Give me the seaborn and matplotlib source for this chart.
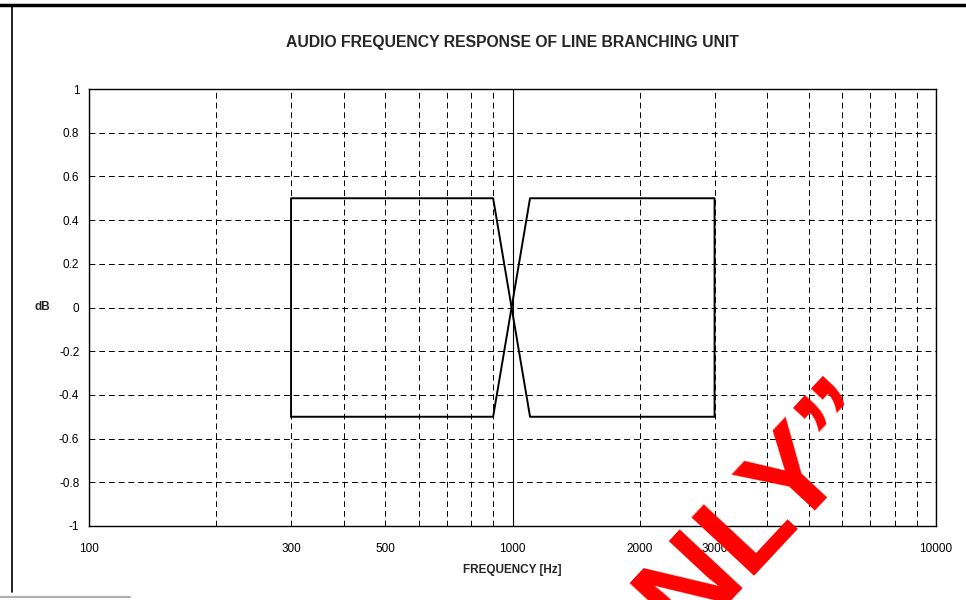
import numpy as np
import pandas as pd
import matplotlib
matplotlib.use("Agg")
import matplotlib.pyplot as plt
from matplotlib.ticker import LogLocator, FuncFormatter
from matplotlib.lines import Line2D
import seaborn as sns

# Tolerance mask of the line branching unit (two boundary traces)
upper_freq = [300, 300, 900, 1100, 3000]
upper_db = [-0.5, 0.5, 0.5, -0.5, -0.5]
lower_freq = [300, 900, 1100, 3000, 3000]
lower_db = [-0.5, -0.5, 0.5, 0.5, -0.5]

x_labelled = [100, 300, 500, 1000, 2000, 3000, 10000]
y_ticks = [-1, -0.8, -0.6, -0.4, -0.2, 0, 0.2, 0.4, 0.6, 0.8, 1]

title = "AUDIO FREQUENCY RESPONSE OF LINE BRANCHING UNIT"
x_title = "FREQUENCY [Hz]"
y_title = "dB"
stamp = "ONLY\u201d"

df = pd.concat([
    pd.DataFrame({"freq": upper_freq, "db": upper_db, "trace": "upper"}),
    pd.DataFrame({"freq": lower_freq, "db": lower_db, "trace": "lower"}),
], ignore_index=True)

sns.set_theme(style="white")
plt.rcParams["font.family"] = ["Liberation Sans", "DejaVu Sans"]

fig = plt.figure(figsize=(9.66, 6.0), dpi=100)
ax = fig.add_axes([89 / 966, 1 - 526 / 600, (936 - 89) / 966, (526 - 89) / 600])

sns.lineplot(data=df, x="freq", y="db", units="trace", estimator=None,
             sort=False, color="black", linewidth=1.4, ax=ax, legend=False)

ax.set_xscale("log")
ax.set_xlim(100, 10000)
ax.set_ylim(-1, 1)

ax.xaxis.set_major_locator(LogLocator(base=10))
ax.xaxis.set_minor_locator(LogLocator(base=10, subs=np.arange(2, 10)))
ax.xaxis.set_major_formatter(FuncFormatter(lambda v, p: f"{v:g}"))
ax.xaxis.set_minor_formatter(FuncFormatter(
    lambda v, p: f"{v:g}" if any(abs(v - t) < 1e-6 * t for t in x_labelled) else ""))
ax.set_yticks(y_ticks)
ax.yaxis.set_major_formatter(FuncFormatter(lambda v, p: f"{v:g}"))

ax.grid(True, which="major", axis="x", color="black", linewidth=0.8, linestyle="-")
ax.grid(True, which="minor", axis="x", color="black", linewidth=0.7, linestyle=(0, (6, 4)))
ax.grid(True, which="major", axis="y", color="black", linewidth=0.7, linestyle=(0, (6, 4)))

for s in ax.spines.values():
    s.set_color("black")
    s.set_linewidth(1.0)

ax.tick_params(axis="both", which="both", labelsize=8.5, colors="black",
               direction="out", length=3, width=0.8)
ax.tick_params(axis="x", which="both", pad=9)
ax.tick_params(axis="y", which="major", pad=4)

ax.set_xlabel(x_title, fontsize=8.5, fontweight="bold", labelpad=7)
ax.set_ylabel(y_title, fontsize=8.5, fontweight="bold", rotation=0,
              labelpad=12, va="center")
ax.set_title(title, fontsize=11.3, fontweight="bold", pad=30)

# page border of the scanned sheet
fig.add_artist(Line2D([0, 1], [1 - 5 / 600, 1 - 5 / 600], transform=fig.transFigure,
                      color="black", linewidth=2.5))
fig.add_artist(Line2D([12 / 966, 12 / 966], [1 - 5 / 600, 1 - 592 / 600],
                      transform=fig.transFigure, color="black", linewidth=1.2))
fig.add_artist(Line2D([0, 130 / 966], [1 - 597 / 600, 1 - 597 / 600],
                      transform=fig.transFigure, color="#b0b0b0", linewidth=1.5))

# red stamp across the lower right
fig.text(620 / 966, 1 - 714 / 600, stamp, color="#ff0000", fontsize=90,
         fontweight="bold", rotation=47, rotation_mode="anchor",
         ha="left", va="baseline")

fig.savefig("out.png", dpi=100)
